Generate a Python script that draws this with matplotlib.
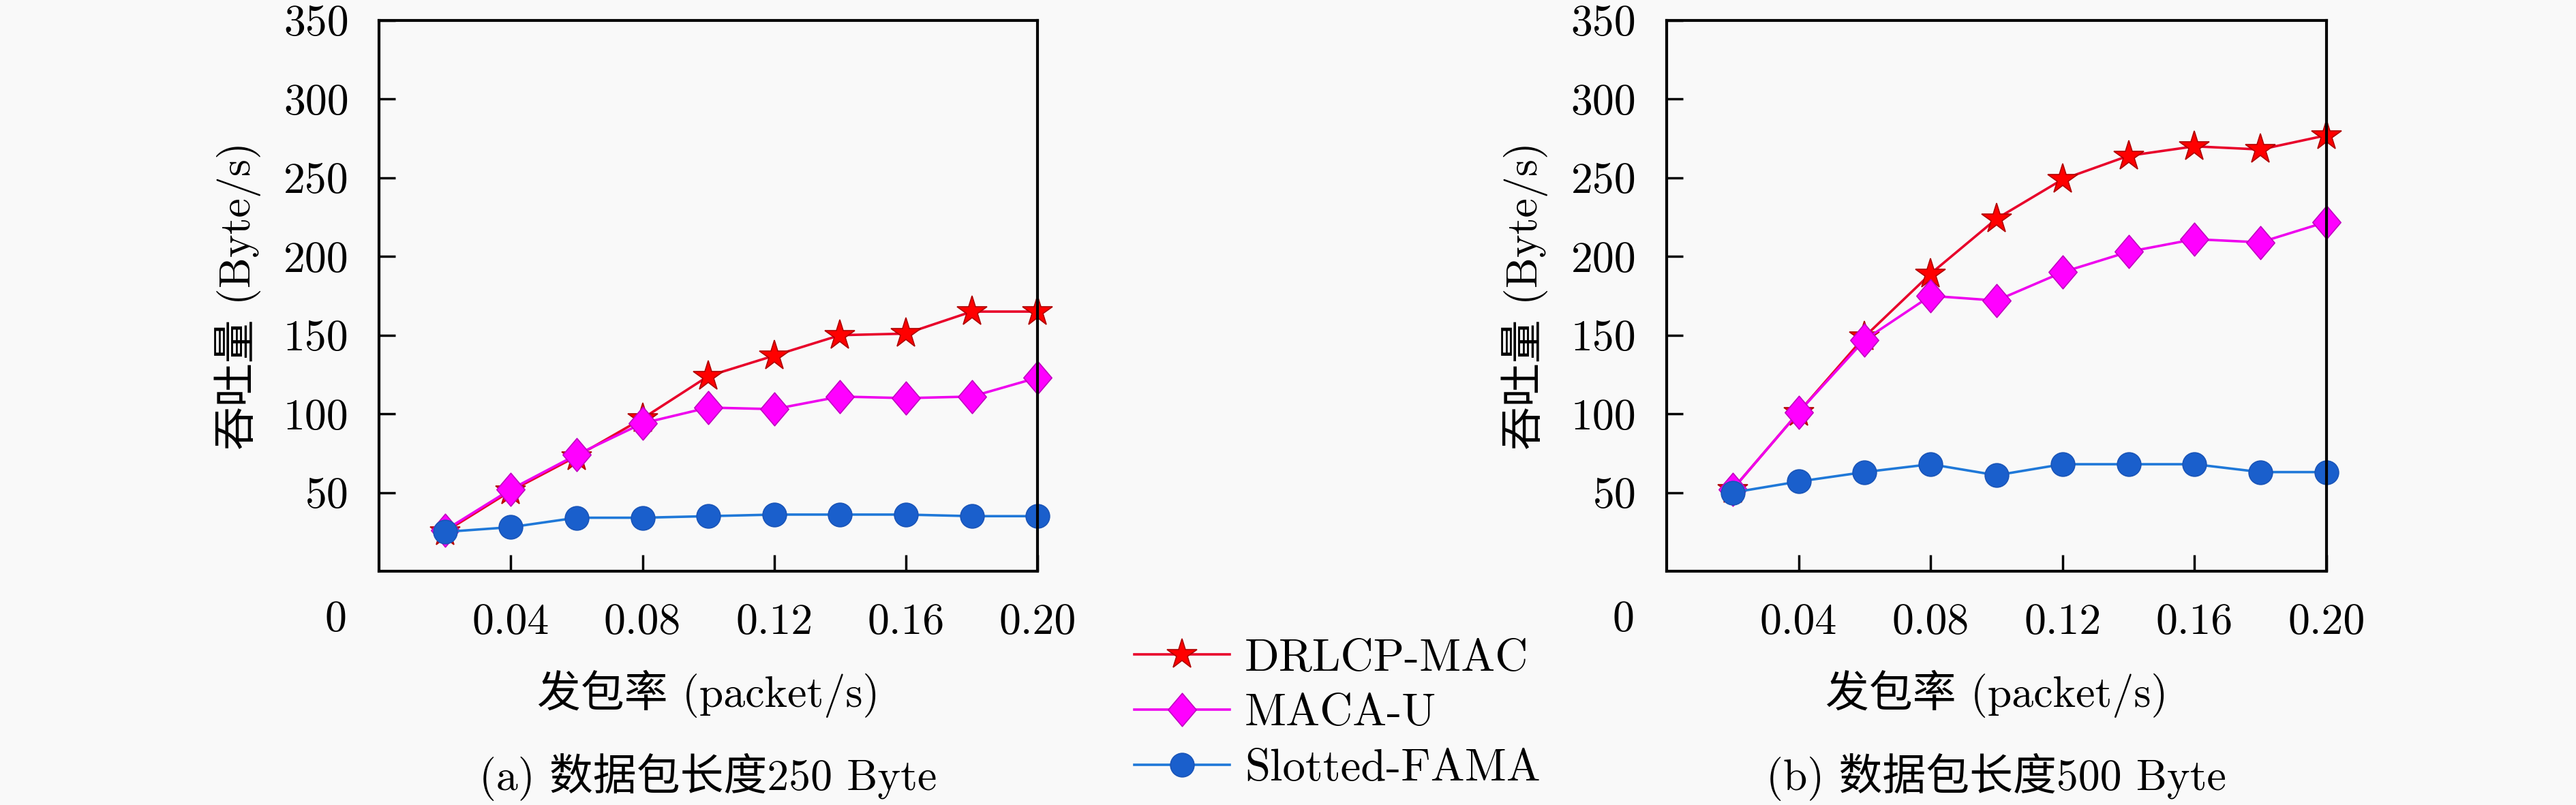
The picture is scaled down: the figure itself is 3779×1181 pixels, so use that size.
import matplotlib
matplotlib.use("Agg")
import matplotlib.pyplot as plt
from matplotlib.path import Path
import numpy as np

plt.rcParams['font.family'] = ['cmr10', 'Noto Sans CJK SC']
plt.rcParams['axes.unicode_minus'] = False
plt.rcParams['axes.formatter.use_mathtext'] = True

# --- data ---
rate = [0.02, 0.04, 0.06, 0.08, 0.10, 0.12, 0.14, 0.16, 0.18, 0.20]

drlcp_250 = [25, 51, 73, 97, 124, 137, 150, 151, 165, 165]
macau_250 = [26, 52, 74, 94, 104, 103, 111, 110, 111, 123]
fama_250 = [25, 28, 34, 34, 35, 36, 36, 36, 35, 35]

drlcp_500 = [52, 101, 149, 189, 224, 249, 264, 270, 268, 277]
macau_500 = [52, 101, 147, 175, 172, 190, 203, 211, 209, 222]
fama_500 = [50, 57, 63, 68, 61, 68, 68, 68, 63, 63]

series_names = ["DRLCP-MAC", "MACA-U", "Slotted-FAMA"]
x_ticks = [0.04, 0.08, 0.12, 0.16, 0.20]
x_ticklabels = ["0.04", "0.08", "0.12", "0.16", "0.20"]
y_ticks = [50, 100, 150, 200, 250, 300, 350]
captions = ["(a) 数据包长度250 Byte", "(b) 数据包长度500 Byte"]

FS = 46
BG = '#f9f9f9'

diamond = Path([(0, 1), (0.85, 0), (0, -1), (-0.85, 0), (0, 1)],
               [Path.MOVETO, Path.LINETO, Path.LINETO, Path.LINETO, Path.CLOSEPOLY])

styles = [
    dict(color='#e8002a', marker='*', markersize=33, markerfacecolor='#ff0000',
         markeredgecolor='#b00000', markeredgewidth=1.2),
    dict(color='#ee00ee', marker=diamond, markersize=35, markerfacecolor='#ff00ff',
         markeredgecolor='#c000c0', markeredgewidth=1.2),
    dict(color='#1f78d8', marker='o', markersize=25, markerfacecolor='#1a5fcc',
         markeredgecolor='#1a55b8', markeredgewidth=1.2),
]

fig = plt.figure(figsize=(37.8, 11.81), dpi=100, facecolor=BG)
ax_left = fig.add_axes([0.1471, 0.2904, 0.2556, 0.6842])
ax_right = fig.add_axes([0.6468, 0.2904, 0.2561, 0.6842])

panels = [
    (ax_left, [drlcp_250, macau_250, fama_250], captions[0]),
    (ax_right, [drlcp_500, macau_500, fama_500], captions[1]),
]

handles = []
for ax, ys, cap in panels:
    ax.set_facecolor(BG)
    hs = []
    for name, y, st in zip(series_names, ys, styles):
        h, = ax.plot(rate, y, linewidth=2.6, label=name, clip_on=False, zorder=3, **st)
        hs.append(h)
    handles = hs if not handles else handles

    ax.set_xlim(0, 0.20)
    ax.set_ylim(0, 350)
    ax.set_xticks(x_ticks)
    ax.set_xticklabels(x_ticklabels)
    ax.set_yticks(y_ticks)
    ax.set_yticklabels([str(v) for v in y_ticks])
    ax.tick_params(direction='in', length=17, width=2.5, labelsize=FS,
                   top=False, right=False)
    ax.tick_params(axis='x', pad=34)
    ax.tick_params(axis='y', pad=32)
    for sp in ax.spines.values():
        sp.set_linewidth(3)
        sp.set_zorder(4)

    # origin label sits at the corner, level with the x tick labels
    ax.text(-0.066, -0.089, "0", transform=ax.transAxes, ha='center', va='center',
            fontsize=FS)

    ax.set_xlabel("发包率 (packet/s)", fontsize=FS)
    ax.xaxis.set_label_coords(0.5, -0.222)
    ax.xaxis.label.set_va('center')
    ax.set_ylabel("吞吐量 (Byte/s)", fontsize=FS)
    ax.yaxis.set_label_coords(-0.215, 0.5)
    ax.yaxis.label.set_va('center')

    ax.text(0.5, -0.374, cap, transform=ax.transAxes, ha='center', va='center',
            fontsize=FS)

fig.legend(handles=handles, labels=series_names, loc='center left',
           bbox_to_anchor=(0.4402, 1 - 1047 / 1181), frameon=False,
           fontsize=48, handlelength=2.1, handletextpad=0.33,
           labelspacing=0.32, borderpad=0, borderaxespad=0)

fig.savefig("out.png", dpi=100, facecolor=BG)
